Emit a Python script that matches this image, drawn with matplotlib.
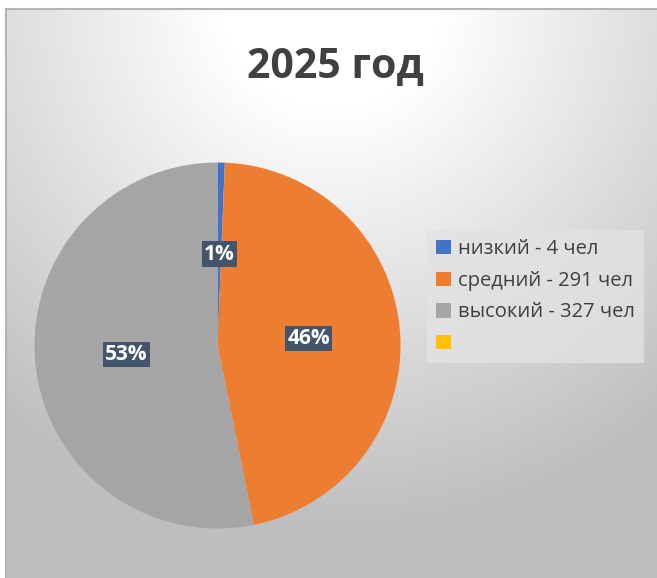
import numpy as np
import matplotlib
matplotlib.use("Agg")
import matplotlib.pyplot as plt
from matplotlib.patches import Patch

# данные
categories = ["низкий - 4 чел", "средний - 291 чел", "высокий - 327 чел", ""]
shares = [0.64, 46, 53, 0]          # доли в процентах (как на диаграмме)
pct_labels = ["1%", "46%", "53%", ""]
colors = ["#4472C4", "#ED7D31", "#A5A5A5", "#FFC000"]
title = "2025 год"

plt.rcParams['font.family'] = ['Open Sans', 'DejaVu Sans']

W, H = 657, 578
fig = plt.figure(figsize=(W / 100, H / 100), dpi=100)
fig.patch.set_facecolor("white")

### фон с радиальным градиентом
bg = fig.add_axes([6 / W, 0, (W - 6) / W, (H - 9) / H])
yy, xx = np.mgrid[0:H - 9, 0:W - 6]
r = np.hypot(xx - 325, yy + 10)
g = np.clip(255 - 65 * (r - 110) / 420, 190, 255) / 255
bg.imshow(np.dstack([g, g, g]), aspect="auto", interpolation="bilinear")
bg.set_xticks([])
bg.set_yticks([])
for s in ["top", "left"]:
    bg.spines[s].set_color("#b4b4b4")
    bg.spines[s].set_linewidth(1.5)
for s in ["right", "bottom"]:
    bg.spines[s].set_visible(False)

fig.text(335 / W, 1 - 67 / H, title, ha="center", va="center",
         fontsize=29.5, fontweight="bold", color="#404040")

### круговая диаграмма
cx, cy, R = 217.5, 345.5, 183
ax = fig.add_axes([(cx - R) / W, (H - cy - R) / H, 2 * R / W, 2 * R / H])
wedges, _ = ax.pie(shares, colors=colors, startangle=90, counterclock=False,
                   radius=1, wedgeprops=dict(linewidth=0))
ax.set_xlim(-1, 1)
ax.set_ylim(-1, 1)
ax.set_aspect("equal")
ax.axis("off")

for w, lab in zip(wedges, pct_labels):
    if not lab:
        continue
    mid = np.deg2rad((w.theta1 + w.theta2) / 2)
    ax.text(0.5 * np.cos(mid), 0.5 * np.sin(mid), lab, ha="center", va="center",
            fontsize=15, fontweight="bold", color="white",
            bbox=dict(boxstyle="square,pad=0.1", facecolor="#44546A", edgecolor="none"))

### легенда
handles = [Patch(facecolor=c, edgecolor="none") for c in colors]
leg = fig.legend(handles, categories, loc="upper left",
                 bbox_to_anchor=(427 / W, 1 - 230 / H), borderaxespad=0, frameon=True,
                 fontsize=14.5, handlelength=0.72, handleheight=0.72,
                 handletextpad=0.38, labelspacing=0.58, borderpad=0.45)
leg.get_frame().set_facecolor("#e2e2e2")
leg.get_frame().set_alpha(0.8)
leg.get_frame().set_edgecolor("none")
leg.get_frame().set_boxstyle("square", pad=0)
for t in leg.get_texts():
    t.set_color("#404040")

fig.savefig("out.png", dpi=100)
